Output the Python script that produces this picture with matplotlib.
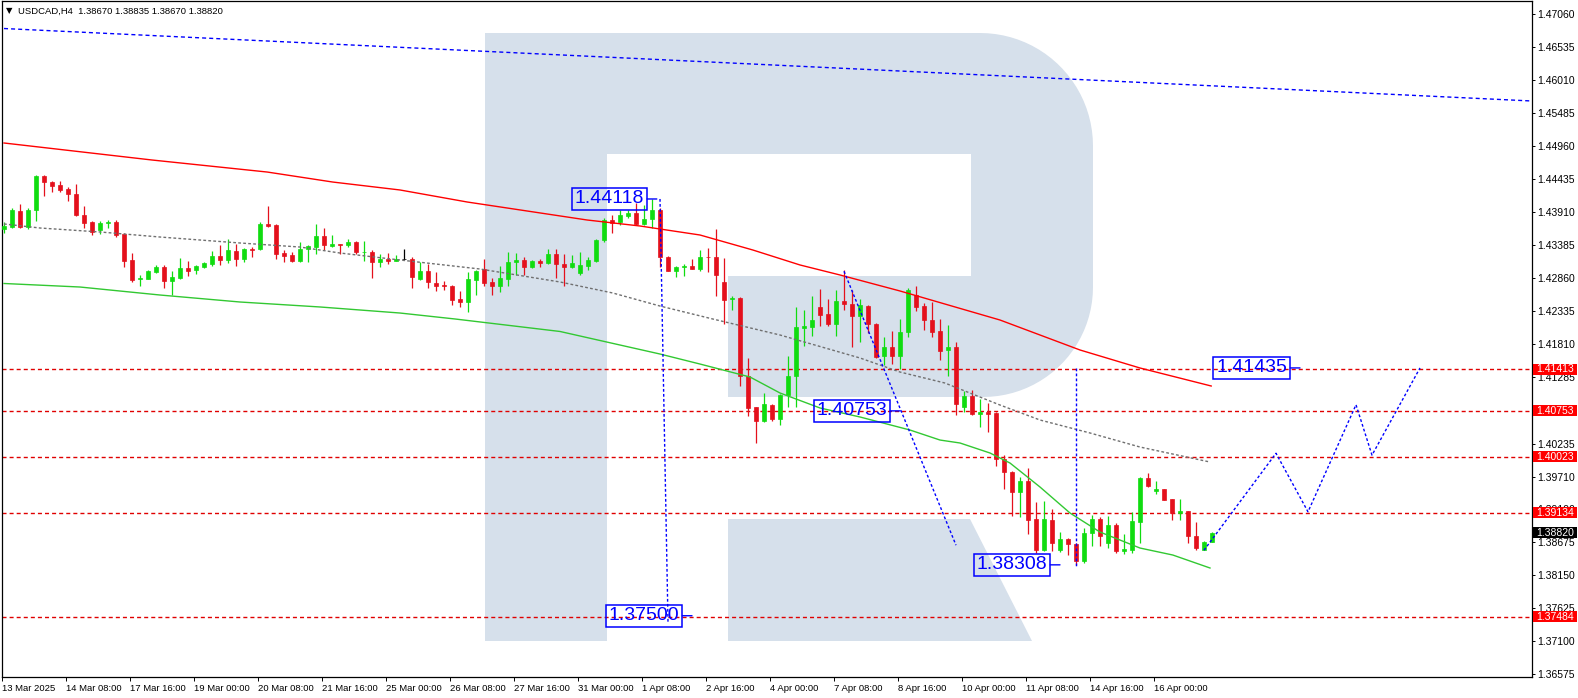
import matplotlib
matplotlib.use('Agg')
import matplotlib.pyplot as plt
import matplotlib.transforms as mtransforms
from matplotlib.patches import Polygon, Rectangle
import numpy as np

plt.rcParams['font.family'] = ['Liberation Sans', 'DejaVu Sans']

W, H = 1578, 698

# USDCAD H4 bars, 13 Mar 2025 00:00 -> 17 Apr 2025 04:00
opens = [1.4364, 1.4368, 1.4393, 1.4368, 1.4394, 1.4449, 1.4439, 1.4434, 1.4428, 1.4420,
         1.4386, 1.4375, 1.4363, 1.4373, 1.4375, 1.4356, 1.4315, 1.4284, 1.4285, 1.4296,
         1.4304, 1.4281, 1.4287, 1.4302, 1.4299, 1.4304, 1.4309, 1.4321, 1.4315, 1.4329,
         1.4316, 1.4332, 1.4332, 1.4372, 1.4371, 1.4326, 1.4323, 1.4313, 1.4332, 1.4336,
         1.4353, 1.4337, 1.4340, 1.4338, 1.4344, 1.4327, 1.4328, 1.4312, 1.4316, 1.4314,
         1.4316, 1.4316, 1.4284, 1.4297, 1.4278, 1.4275, 1.4274, 1.4253, 1.4249, 1.4283,
         1.4300, 1.4280, 1.4273, 1.4285, 1.4311, 1.4315, 1.4303, 1.4313, 1.4310, 1.4324,
         1.4308, 1.4303, 1.4295, 1.4306, 1.4314, 1.4346, 1.4378, 1.4375, 1.4384, 1.4390,
         1.4372, 1.4380, 1.4394, 1.4319, 1.4298, 1.4303, 1.4305, 1.4301, 1.4320, 1.4319,
         1.4280, 1.4253, 1.4255, 1.4131, 1.4081, 1.4059, 1.4085, 1.4062, 1.4100, 1.4130,
         1.4207, 1.4209, 1.4240, 1.4229, 1.4214, 1.4250, 1.4245, 1.4226, 1.4242, 1.4214,
         1.4163, 1.4176, 1.4163, 1.4201, 1.4260, 1.4242, 1.4220, 1.4202, 1.4172, 1.4177,
         1.4082, 1.4099, 1.4071, 1.4074, 1.4072, 1.3999, 1.3979, 1.3947, 1.3964, 1.3904,
         1.3855, 1.3902, 1.3854, 1.3872, 1.3864, 1.3837, 1.3881, 1.3904, 1.3866, 1.3894,
         1.3853, 1.3855, 1.3899, 1.3969, 1.3948, 1.3951, 1.3935, 1.3913, 1.3916, 1.3877,
         1.3855, 1.3867]
highs = [1.4375, 1.4397, 1.4404, 1.4397, 1.4450, 1.4450, 1.4441, 1.4440, 1.4431, 1.4436,
         1.4401, 1.4377, 1.4377, 1.4378, 1.4379, 1.4358, 1.4326, 1.4291, 1.4299, 1.4307,
         1.4307, 1.4297, 1.4318, 1.4313, 1.4307, 1.4312, 1.4329, 1.4339, 1.4348, 1.4341,
         1.4334, 1.4335, 1.4375, 1.4401, 1.4372, 1.4331, 1.4328, 1.4344, 1.4339, 1.4372,
         1.4365, 1.4355, 1.4341, 1.4348, 1.4345, 1.4345, 1.4331, 1.4324, 1.4326, 1.4323,
         1.4332, 1.4319, 1.4312, 1.4309, 1.4296, 1.4281, 1.4275, 1.4265, 1.4296, 1.4299,
         1.4316, 1.4286, 1.4305, 1.4327, 1.4326, 1.4320, 1.4315, 1.4316, 1.4333, 1.4332,
         1.4325, 1.4323, 1.4328, 1.4320, 1.4349, 1.4381, 1.4386, 1.4394, 1.4394, 1.4405,
         1.4403, 1.4412, 1.4397, 1.4321, 1.4305, 1.4308, 1.4316, 1.4331, 1.4334, 1.4364,
         1.4318, 1.4258, 1.4256, 1.4159, 1.4082, 1.4103, 1.4087, 1.4102, 1.4163, 1.4240,
         1.4236, 1.4258, 1.4269, 1.4253, 1.4267, 1.4299, 1.4267, 1.4253, 1.4244, 1.4215,
         1.4192, 1.4202, 1.4222, 1.4270, 1.4273, 1.4247, 1.4248, 1.4221, 1.4212, 1.4184,
         1.4107, 1.4109, 1.4094, 1.4088, 1.4073, 1.4006, 1.3980, 1.3971, 1.3985, 1.3931,
         1.3932, 1.3919, 1.3883, 1.3873, 1.3865, 1.3889, 1.3910, 1.3906, 1.3909, 1.3897,
         1.3879, 1.3914, 1.3970, 1.3976, 1.3964, 1.3952, 1.3936, 1.3935, 1.3917, 1.3899,
         1.3868, 1.38835]
lows = [1.4357, 1.4365, 1.4366, 1.4364, 1.4377, 1.4417, 1.4423, 1.4423, 1.4409, 1.4384,
        1.4366, 1.4354, 1.4356, 1.4365, 1.4352, 1.4303, 1.4280, 1.4274, 1.4284, 1.4294,
        1.4271, 1.4260, 1.4284, 1.4290, 1.4293, 1.4302, 1.4305, 1.4307, 1.4310, 1.4305,
        1.4312, 1.4319, 1.4330, 1.4368, 1.4316, 1.4311, 1.4312, 1.4312, 1.4312, 1.4325,
        1.4330, 1.4336, 1.4324, 1.4335, 1.4324, 1.4314, 1.4287, 1.4304, 1.4309, 1.4313,
        1.4315, 1.4270, 1.4283, 1.4271, 1.4265, 1.4267, 1.4244, 1.4241, 1.4233, 1.4259,
        1.4273, 1.4259, 1.4264, 1.4274, 1.4291, 1.4291, 1.4302, 1.4304, 1.4309, 1.4287,
        1.4274, 1.4302, 1.4291, 1.4299, 1.4312, 1.4344, 1.4358, 1.4371, 1.4381, 1.4371,
        1.4371, 1.4365, 1.4304, 1.4297, 1.4288, 1.4290, 1.4300, 1.4297, 1.4296, 1.4257,
        1.4214, 1.4236, 1.4115, 1.4067, 1.4025, 1.4057, 1.4060, 1.4053, 1.4081, 1.4082,
        1.4178, 1.4194, 1.4210, 1.4210, 1.4195, 1.4236, 1.4177, 1.4184, 1.4199, 1.4160,
        1.4148, 1.4150, 1.4142, 1.4193, 1.4234, 1.4204, 1.4192, 1.4156, 1.4131, 1.4069,
        1.4073, 1.4068, 1.4050, 1.4042, 1.3987, 1.3951, 1.3909, 1.3906, 1.3879, 1.3849,
        1.3853, 1.3852, 1.3851, 1.3846, 1.3831, 1.3833, 1.3861, 1.3861, 1.3858, 1.3849,
        1.3848, 1.3849, 1.3866, 1.3955, 1.3944, 1.3933, 1.3902, 1.3902, 1.3866, 1.3855,
        1.3854, 1.3867]
closes = [1.4369, 1.4394, 1.4368, 1.4395, 1.4449, 1.4438, 1.4433, 1.4426, 1.4419, 1.4386,
          1.4374, 1.4360, 1.4373, 1.4376, 1.4355, 1.4314, 1.4283, 1.4286, 1.4297, 1.4304,
          1.4281, 1.4288, 1.4302, 1.4297, 1.4305, 1.4310, 1.4321, 1.4315, 1.4331, 1.4316,
          1.4332, 1.4330, 1.4372, 1.4369, 1.4325, 1.4322, 1.4314, 1.4332, 1.4337, 1.4353,
          1.4338, 1.4340, 1.4338, 1.4344, 1.4327, 1.4328, 1.4312, 1.4316, 1.4314, 1.4317,
          1.4316, 1.4288, 1.4297, 1.4280, 1.4274, 1.4273, 1.4251, 1.4249, 1.4285, 1.4297,
          1.4279, 1.4273, 1.4286, 1.4312, 1.4315, 1.4304, 1.4313, 1.4310, 1.4324, 1.4308,
          1.4303, 1.4310, 1.4307, 1.4315, 1.4347, 1.4378, 1.4374, 1.4386, 1.4390, 1.4372,
          1.4380, 1.4394, 1.4319, 1.4298, 1.4304, 1.4305, 1.4301, 1.4319, 1.4319, 1.4291,
          1.4251, 1.4255, 1.4130, 1.4080, 1.4059, 1.4086, 1.4062, 1.4101, 1.4131, 1.4209,
          1.4210, 1.4220, 1.4228, 1.4214, 1.4250, 1.4245, 1.4226, 1.4243, 1.4214, 1.4161,
          1.4176, 1.4163, 1.4200, 1.4267, 1.4241, 1.4219, 1.4201, 1.4171, 1.4177, 1.4087,
          1.4099, 1.4071, 1.4074, 1.4071, 1.3999, 1.3979, 1.3947, 1.3964, 1.3902, 1.3855,
          1.3904, 1.3865, 1.3872, 1.3864, 1.3837, 1.3881, 1.3904, 1.3876, 1.3894, 1.3853,
          1.3856, 1.3900, 1.3969, 1.3956, 1.3951, 1.3934, 1.3913, 1.3916, 1.3876, 1.3858,
          1.3867, 1.3882]

# moving averages (bar index, price)
ma_red_x = [0, 18.5, 32.9, 41.1, 49.5, 57.9, 72.9, 79.5, 87, 93.6, 99.5, 104.5, 112, 124.5, 134.5, 142, 150.9]
ma_red_y = [1.45007, 1.44737, 1.44546, 1.44387, 1.44261, 1.44070, 1.43784, 1.43689, 1.43546, 1.43308,
            1.43070, 1.42911, 1.42657, 1.42196, 1.41720, 1.41434, 1.41148]
ma_green_x = [0, 9.5, 19.5, 29.5, 39.5, 49.5, 56.4, 69.5, 77, 82, 87, 93.25, 97, 102, 107, 113.25,
              117, 119.5, 123.25, 125.75, 129.5, 133.25, 137, 142, 146.1, 150.75]
ma_green_y = [1.42776, 1.42720, 1.42593, 1.42482, 1.42403, 1.42307, 1.42212, 1.42014, 1.41799, 1.41656,
              1.41497, 1.41291, 1.41037, 1.40799, 1.40656, 1.40449, 1.40290, 1.40243, 1.40084, 1.39925,
              1.39544, 1.39131, 1.38829, 1.38575, 1.38464, 1.38258]
ma_gray_x = [0, 4.5, 12, 19.5, 29.5, 37, 42, 49.5, 59.5, 69.5, 76.1, 82, 88.6, 97, 107, 112, 117.6,
             124.5, 129.5, 135.75, 142, 150.75]
ma_gray_y = [1.43721, 1.43657, 1.43594, 1.43514, 1.43419, 1.43355, 1.43260, 1.43149, 1.43006, 1.42800,
             1.42625, 1.42418, 1.42212, 1.41958, 1.41593, 1.41370, 1.41196, 1.40846, 1.40608, 1.40402,
             1.40179, 1.39941]

trend_x = [0, 191]
trend_y = [1.46825, 1.45674]

levels = [1.41413, 1.40753, 1.40023, 1.39134, 1.37484]
last_price = 1.38820

forecast_x = [150, 159, 163, 169, 171, 177]
forecast_y = [1.3854, 1.4008, 1.3915, 1.4085, 1.4005, 1.41435]
old_paths = [([82, 83], [1.44118, 1.3740]),
             ([105, 119], [1.4297, 1.3862]),
             ([134, 134], [1.41435, 1.3826])]
targets = [('1.44118', 81.6, 1.44118), ('1.37500', 86, 1.37500), ('1.40753', 112, 1.40753),
           ('1.38308', 132, 1.38308), ('1.41435', 162, 1.41435)]

ytick_vals = [1.47060, 1.46535, 1.46010, 1.45485, 1.44960, 1.44435, 1.43910, 1.43385, 1.42860,
              1.42335, 1.41810, 1.41285, 1.40760, 1.40235, 1.39710, 1.39190, 1.38675, 1.38150,
              1.37625, 1.37100, 1.36575]
ytick_labels = ['%.5f' % v for v in ytick_vals]
xtick_bars = list(range(0, 145, 8))
xtick_labels = ['13 Mar 2025', '14 Mar 08:00', '17 Mar 16:00', '19 Mar 00:00', '20 Mar 08:00',
                '21 Mar 16:00', '25 Mar 00:00', '26 Mar 08:00', '27 Mar 16:00', '31 Mar 00:00',
                '1 Apr 08:00', '2 Apr 16:00', '4 Apr 00:00', '7 Apr 08:00', '8 Apr 16:00',
                '10 Apr 00:00', '11 Apr 08:00', '14 Apr 16:00', '16 Apr 00:00']

bull = '#10dc10'
bear = '#e4101c'
wm = '#d6e0eb'

fig = plt.figure(figsize=(W / 100, H / 100), dpi=100)
ax = fig.add_axes([2 / W, 21 / H, 1530 / W, 676 / H])
ax.set_xlim(-0.25, 191)
ax.set_ylim(1.36527, 1.47262)


# watermark "R" (figure pixel coordinates, y from top)
def to_fig(pts):
    return [(x / W, 1 - y / H) for x, y in pts]


def arc(cx, cy, r, a0, a1):
    t = np.radians(np.linspace(a0, a1, 24))
    return list(zip(cx + r * np.cos(t), cy - r * np.sin(t)))


stem = [(485, 33), (607, 33), (607, 641), (485, 641)]
bowl = ([(607, 33), (980, 33)] + arc(980, 146, 113, 90, 0) + [(1093, 287)]
        + arc(983, 287, 110, 0, -90) + [(728, 397), (728, 276), (971, 276), (971, 154), (607, 154)])
leg = [(728, 519), (970, 519), (1032, 641), (728, 641)]
for shape in (stem, bowl, leg):
    ax.add_patch(Polygon(to_fig(shape), closed=True, transform=fig.transFigure,
                         fc=wm, ec='none', zorder=0))

# levels and trend lines
for lv in levels:
    ax.axhline(lv, color='#e00000', lw=1, dashes=(2.9, 2.2), zorder=1)
ax.plot(trend_x, trend_y, color='#0000ff', lw=1, dashes=(2.9, 2.2), zorder=1)

# candles
idx = np.arange(len(opens))
o, h, l, c = map(np.array, (opens, highs, lows, closes))
cols = np.where(c > o, bull, np.where(c < o, bear, 'black'))
ax.vlines(idx, l, h, colors=cols, lw=0.9, zorder=3)
ax.bar(idx, np.abs(c - o), bottom=np.minimum(o, c), width=0.6, color=cols,
       edgecolor=cols, linewidth=0.5, zorder=4)

# moving averages
ax.plot(ma_red_x, ma_red_y, color='#ff0000', lw=1.0, zorder=5)
ax.plot(ma_green_x, ma_green_y, color='#32c832', lw=1.0, zorder=5)
ax.plot(ma_gray_x, ma_gray_y, color='#707070', lw=1.0, dashes=(2, 1.6), zorder=5)

# forecast drawings
ax.plot(forecast_x, forecast_y, color='#0000ff', lw=1, dashes=(2, 1.6), zorder=6)
for xs, ys in old_paths:
    ax.plot(xs, ys, color='#0000ff', lw=1, dashes=(2, 1.6), zorder=6)
for txt, xi, yv in targets:
    ax.annotate(txt, xy=(xi, yv), xytext=(-13, 0), textcoords='offset pixels',
                ha='right', va='center', fontsize=14, color='#0000ff',
                bbox=dict(boxstyle='square,pad=0.14', fc='none', ec='#0000ff', lw=1.1),
                arrowprops=dict(arrowstyle='-', color='#0000ff', lw=1, shrinkA=0, shrinkB=0),
                zorder=7)

# axes styling
for sp in ax.spines.values():
    sp.set_color('black')
    sp.set_linewidth(0.9)
ax.yaxis.tick_right()
ax.set_yticks(ytick_vals)
ax.set_yticklabels(ytick_labels)
ax.tick_params(axis='y', direction='out', length=2.5, width=0.7, pad=1.2, labelsize=7.5)
ax.set_xticks(np.array(xtick_bars) - 0.25)
ax.set_xticklabels(xtick_labels, ha='left')
shift = mtransforms.ScaledTranslation(2 / 100, 0, fig.dpi_scale_trans)
for lab in ax.get_xticklabels():
    lab.set_transform(lab.get_transform() + shift)
ax.tick_params(axis='x', direction='out', length=3, width=0.7, pad=2, labelsize=6.8)

# price boxes on the right axis
bt = mtransforms.blended_transform_factory(ax.transAxes, ax.transData)
box_h = 11 / 6297
for lv, bg in [(v, '#ff0000') for v in levels] + [(last_price, 'black')]:
    ax.add_patch(Rectangle((1 + 1 / 1530, lv - box_h / 2), 44 / 1530, box_h, transform=bt,
                           fc=bg, ec='none', clip_on=False, zorder=8))
    ax.text(1 + 4.5 / 1530, lv, '%.5f' % lv, transform=bt, ha='left', va='center',
            fontsize=7.5, color='white', clip_on=False, zorder=9)

# header
fig.text(6 / W, 1 - 11 / H, '\u25bc', fontsize=6, family='DejaVu Sans', va='center')
fig.text(18 / W, 1 - 11 / H, 'USDCAD,H4  1.38670 1.38835 1.38670 1.38820', fontsize=6.8, va='center')

fig.savefig('out.png', dpi=100)
